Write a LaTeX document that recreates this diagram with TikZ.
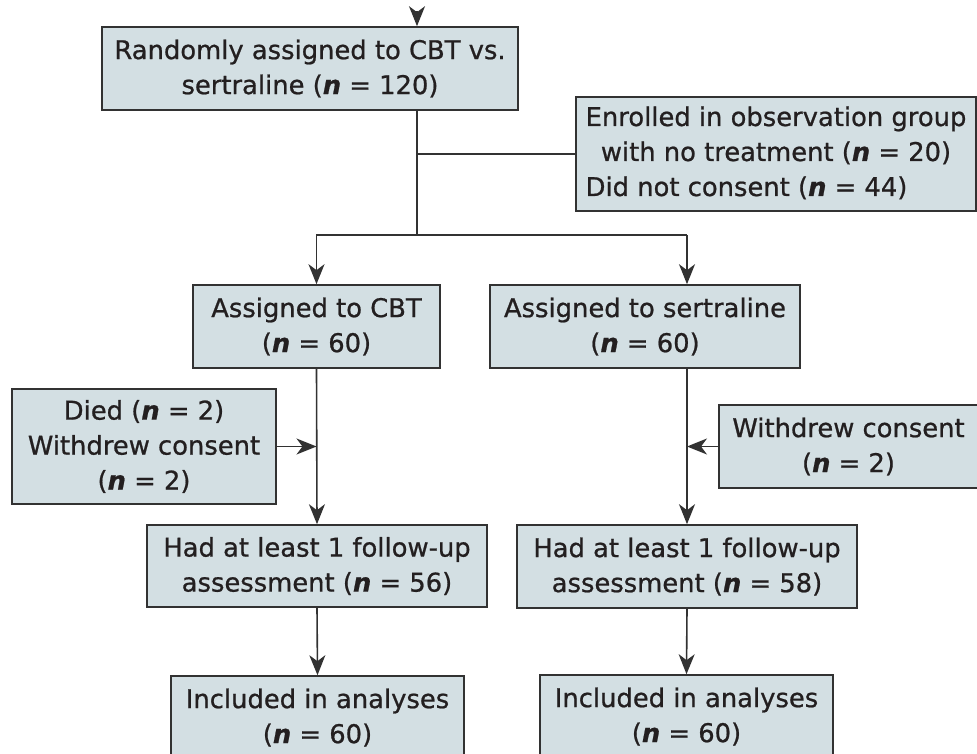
\documentclass[tikz,border=0pt]{standalone}
\usepackage{fontspec}
\setmainfont{DejaVu Sans}[FakeBold=0.8]
\usetikzlibrary{arrows.meta}
\definecolor{boxfill}{RGB}{211,223,227}
\definecolor{linecol}{RGB}{50,50,50}
\definecolor{txtcol}{RGB}{35,31,32}
\newcommand{\nn}{{\bfseries\itshape n}}
\begin{document}
\begin{tikzpicture}[x=1pt,y=-1pt,
  box/.style={draw=linecol, line width=1.6pt, fill=boxfill, text=txtcol,
    inner sep=0pt, align=center, anchor=center,
    font=\fontsize{25.8}{35}\selectfont},
  conn/.style={draw=linecol, line width=1.6pt},
  arr/.style={conn, -{Stealth[length=20pt,width=16pt,inset=6pt]}}]
\useasboundingbox (0,0) rectangle (977,754);
\clip (0,0) rectangle (977,754);
\node[box, minimum width=416pt, minimum height=83pt] (top) at (310,68.5)
  {Randomly assigned to CBT vs.\\ sertraline (\nn{} = 120)};
\node[box, minimum width=400pt, minimum height=114pt] (enr) at (776,154)
  {\begin{tabular}{@{}l@{}}Enrolled in observation group\\
   \multicolumn{1}{@{}c@{}}{with no treatment (\nn{} = 20)}\\
   Did not consent (\nn{} = 44)\end{tabular}};
\node[box, minimum width=247pt, minimum height=83pt] (cbt) at (316.5,326.5)
  {Assigned to CBT\\ (\nn{} = 60)};
\node[box, minimum width=310pt, minimum height=83pt] (ser) at (645,326.5)
  {Assigned to sertraline\\ (\nn{} = 60)};
\node[box, minimum width=264pt, minimum height=115pt] (died) at (144,446.5)
  {Died (\nn{} = 2)\\ Withdrew consent\\ (\nn{} = 2)};
\node[box, minimum width=259pt, minimum height=83pt] (wd) at (848.5,446.5)
  {Withdrew consent\\ (\nn{} = 2)};
\node[box, minimum width=340pt, minimum height=82pt] (had1) at (317,566)
  {Had at least 1 follow-up\\ assessment (\nn{} = 56)};
\node[box, minimum width=340pt, minimum height=83pt] (had2) at (687,566.5)
  {Had at least 1 follow-up\\ assessment (\nn{} = 58)};
\node[box, minimum width=293pt, minimum height=83pt] (inc1) at (317.5,717.5)
  {Included in analyses\\ (\nn{} = 60)};
\node[box, minimum width=293pt, minimum height=83pt] (inc2) at (686.5,716.5)
  {Included in analyses\\ (\nn{} = 60)};
\coordinate (in) at (417,11);
\coordinate (j1) at (417,154);
\coordinate (j2) at (417,235);
\coordinate (j3) at (687,235);
\draw[arr] (in) -- (in |- top.north);
\draw[conn] (top.south -| j1) -- (j2);
\draw[conn] (j1) -- (enr.west);
\draw[conn] (j2) -- (j3);
\draw[arr] (j2) -| (cbt.north);
\draw[arr] (j3) -- (j3 |- ser.north);
\draw[arr] (cbt.south) -- (had1.north);
\draw[arr] (died.east) -- (died.east -| cbt.south);
\draw[arr] (ser.south -| j3) -- (had2.north);
\draw[arr] (wd.west) -- (wd.west -| had2.north);
\draw[arr] (had1.south) -- (inc1.north);
\draw[arr] (had2.south) -- (inc2.north);
\end{tikzpicture}
\end{document}
